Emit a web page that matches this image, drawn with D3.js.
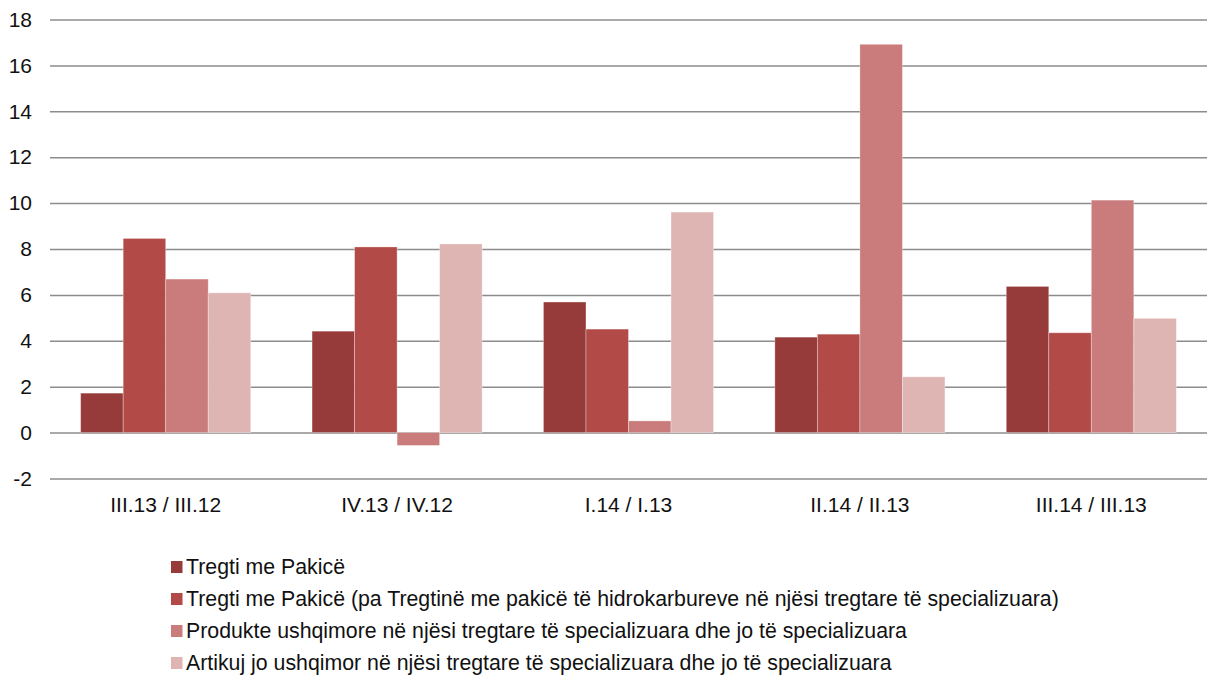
<!DOCTYPE html>
<html>
<head>
<meta charset="utf-8">
<script src="https://cdn.jsdelivr.net/npm/d3@7"></script>
<style>
  body { margin: 0; background: #fff; }
  svg text { font-family: "Liberation Sans", Arial, sans-serif; fill: #111; }
</style>
</head>
<body>
<div id="chart"></div>
<script>
// Chart data
const categories = ["III.13 / III.12", "IV.13 / IV.12", "I.14 / I.13", "II.14 / II.13", "III.14 / III.13"];
const seriesNames = [
  "Tregti me Pakicë",
  "Tregti me Pakicë (pa Tregtinë me pakicë të hidrokarbureve në njësi tregtare të specializuara)",
  "Produkte ushqimore në njësi tregtare të specializuara dhe jo të specializuara",
  "Artikuj jo ushqimor në njësi tregtare të specializuara dhe jo të specializuara"
];
const retail = [1.72, 4.42, 5.69, 4.16, 6.37];
const retailNoFuel = [8.46, 8.09, 4.51, 4.29, 4.35];
const foodProducts = [6.69, -0.56, 0.51, 16.92, 10.13];
const nonFood = [6.09, 8.22, 9.61, 2.43, 4.98];
const yTicks = [-2, 0, 2, 4, 6, 8, 10, 12, 14, 16, 18];
const colors = ["#963a3a", "#b24b48", "#c97c7b", "#dfb5b4"];

const seriesValues = [retail, retailNoFuel, foodProducts, nonFood];

const drawChart = () => {
  const width = 1208;
  const height = 675;
  const margin = { top: 19.5, right: 1, bottom: 675 - 478.5, left: 50 };
  const axisFont = 21;
  const legendFont = 21.3;

  const svg = d3.select("#chart")
                .append("svg")
                .attr("width", width)
                .attr("height", height);

  const yScale = d3.scaleLinear()
                   .domain([-2, 18])
                   .range([height - margin.bottom, margin.top]);

  const xScale = d3.scaleBand()
                   .domain(categories)
                   .range([margin.left, width - margin.right])
                   .paddingInner(0.265)
                   .paddingOuter(0.1325);

  const xInner = d3.scaleBand()
                   .domain(d3.range(seriesNames.length))
                   .range([0, xScale.bandwidth()]);

  // gridlines + y labels
  const yAxis = d3.axisLeft(yScale)
                  .tickValues(yTicks)
                  .tickSize(-(width - margin.left - margin.right))
                  .tickPadding(18)
                  .tickFormat((d) => String(d));

  const yG = svg.append("g")
                .attr("transform", `translate(${margin.left},0)`)
                .call(yAxis);
  yG.select(".domain").remove();
  yG.selectAll(".tick line").attr("stroke", "#8c8c8c").attr("stroke-width", 1.5);
  yG.selectAll(".tick text").attr("font-size", axisFont).attr("fill", "#111");

  // bars
  const groups = svg.selectAll("g.group")
                    .data(categories)
                    .enter()
                    .append("g")
                    .attr("class", "group")
                    .attr("transform", (d) => `translate(${xScale(d)},0)`);

  groups.selectAll("rect")
        .data((d, i) => seriesValues.map((vals, s) => ({ s: s, v: vals[i] })))
        .enter()
        .append("rect")
        .attr("x", (d) => xInner(d.s))
        .attr("width", xInner.bandwidth())
        .attr("y", (d) => yScale(Math.max(0, d.v)))
        .attr("height", (d) => Math.abs(yScale(d.v) - yScale(0)))
        .attr("fill", (d) => colors[d.s])
        .attr("stroke", "#ffffff")
        .attr("stroke-opacity", 0.4)
        .attr("stroke-width", 0.8);

  // category labels
  svg.append("g")
     .selectAll("text")
     .data(categories)
     .enter()
     .append("text")
     .attr("x", (d) => xScale(d) + xScale.bandwidth() / 2)
     .attr("y", 511.5)
     .attr("text-anchor", "middle")
     .attr("font-size", axisFont)
     .text((d) => d);

  // legend
  const legend = svg.append("g")
                    .selectAll("g")
                    .data(seriesNames)
                    .enter()
                    .append("g")
                    .attr("transform", (d, i) => `translate(171,${567 + i * 32})`);

  legend.append("rect")
        .attr("x", 0)
        .attr("y", -6)
        .attr("width", 11.5)
        .attr("height", 12)
        .attr("fill", (d, i) => colors[i]);

  legend.append("text")
        .attr("x", 15)
        .attr("y", 6.5)
        .attr("font-size", legendFont)
        .text((d) => d);
}

drawChart();
</script>
</body>
</html>
